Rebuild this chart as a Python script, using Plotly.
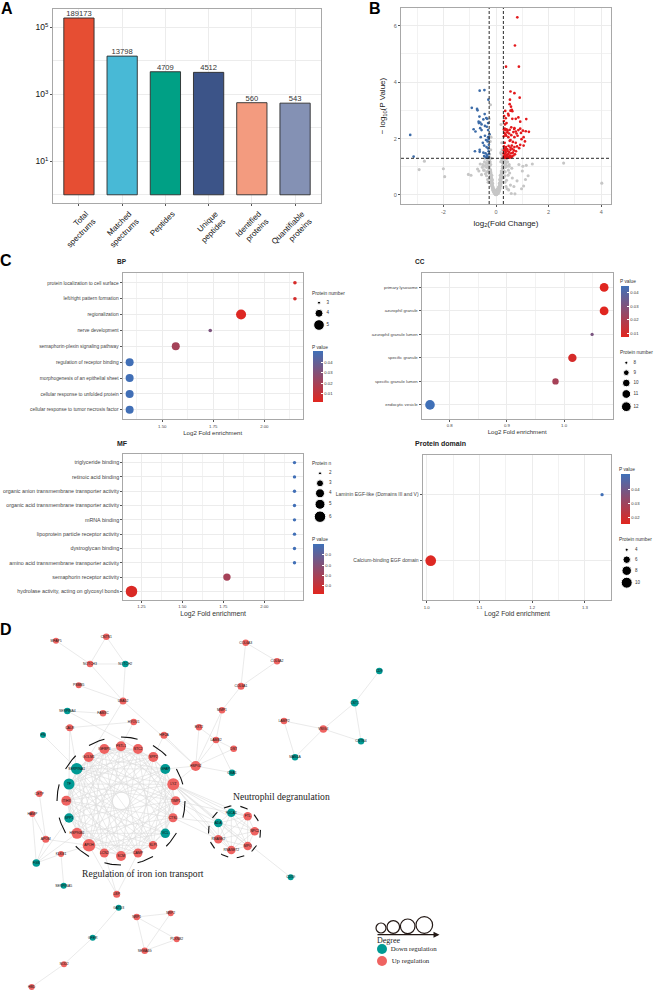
import itertools
import numpy as np
import plotly.graph_objects as go

W, H = 656, 991
SANS = "Liberation Sans, Arial, sans-serif"
SERIF = "Liberation Serif, Times New Roman, serif"
GRID = "#ececec"
BORDER = "#a8a8a8"
TEAL = "#009a94"
CORAL = "#ef6361"
SCALE = [[0, "#e1261f"], [1, "#3f70b8"]]

# ---------- A: counts ----------
count_labels = ["Total<br>spectrums", "Matched<br>spectrums", "Peptides", "Unique<br>peptides",
                "Identified<br>proteins", "Quantifiable<br>proteins"]
count_values = [189173, 13798, 4709, 4512, 560, 543]
count_colors = ["#e64e33", "#48b9d6", "#00a085", "#3c5488", "#f39b7f", "#8491b4"]

# ---------- B: volcano ----------
red_x = [0.81, 0.72, 0.38, 0.87, 0.55, 0.70, 0.90, 0.53, 0.52, 0.57, 0.60, 0.55, 0.62, 0.35, 0.46, 0.31, 0.37, 0.48,
         0.62, 0.75, 0.92, 1.15, 0.85, 0.30, 0.34, 0.40, 0.58, 0.70, 0.30, 0.33, 0.36, 0.40, 0.44, 0.52, 0.69, 0.75,
         0.92, 0.95, 1.02, 1.13, 1.25, 0.32, 0.36, 0.43, 0.50, 0.58, 0.66, 0.78, 0.85, 1.05, 0.30, 0.39, 0.47, 0.55,
         0.70, 0.82, 0.97, 1.10, 0.33, 0.52, 0.64, 0.75, 0.92, 1.05, 0.30, 0.34, 0.38, 0.43, 0.48, 0.55, 0.60, 0.70,
         0.80, 0.88, 0.30, 0.32, 0.36, 0.40, 0.45, 0.50, 0.55, 0.62, 0.68, 0.76, 0.29, 0.33, 0.37, 0.42, 0.47, 0.52,
         0.58, 0.64, 0.72, 0.30, 0.34, 0.38, 0.43, 0.48, 0.54, 0.60, 0.66, 0.29, 0.32, 0.37, 0.41, 0.46, 0.52, 0.58]
red_y = [6.30, 5.30, 4.55, 4.55, 3.67, 3.61, 3.45, 3.38, 3.22, 3.13, 3.02, 2.99, 2.97, 2.98, 2.88, 2.80, 2.72, 2.82,
         2.70, 2.70, 2.60, 2.69, 2.75, 2.62, 2.50, 2.55, 2.40, 2.37, 2.32, 2.35, 2.30, 2.33, 2.28, 2.31, 2.34, 2.25,
         2.35, 2.20, 2.28, 2.26, 2.24, 2.20, 2.15, 2.22, 2.18, 2.12, 2.23, 2.18, 2.30, 2.05, 2.08, 2.10, 2.05, 1.95,
         2.05, 2.10, 1.98, 1.90, 1.85, 1.92, 1.88, 1.85, 1.78, 1.75, 1.72, 1.65, 1.70, 1.62, 1.74, 1.68, 1.75, 1.70,
         1.72, 1.66, 1.58, 1.60, 1.56, 1.62, 1.55, 1.52, 1.60, 1.64, 1.58, 1.55, 1.48, 1.45, 1.50, 1.42, 1.46, 1.40,
         1.48, 1.50, 1.44, 1.38, 1.35, 1.40, 1.36, 1.34, 1.38, 1.36, 1.40, 1.32, 1.33, 1.32, 1.31, 1.33, 1.32, 1.34]
blue_x = [-3.26, -3.13, -0.62, -0.44, -0.29, -0.92, -0.72, -0.70, -0.43, -0.63, -0.37, -0.66, -0.48, -0.34, -0.30,
          -0.60, -0.65, -0.55, -0.42, -0.85, -0.78, -0.60, -0.35, -0.55, -0.30, -0.25, -0.58, -0.30, -0.42, -0.28,
          -0.38, -0.50, -0.32, -0.45, -0.27, -0.62, -0.80, -0.62, -0.36, -0.48, -0.30, -0.40, -0.28, -0.35, -0.45,
          -0.33, -0.27, -0.38, -0.30]
blue_y = [2.13, 1.36, 3.70, 3.72, 3.38, 3.09, 3.05, 3.00, 2.87, 2.78, 2.73, 2.60, 2.68, 2.70, 2.55, 2.57, 2.55, 2.50,
          2.45, 2.33, 2.25, 2.37, 2.42, 2.30, 2.30, 2.15, 2.05, 2.05, 2.10, 1.98, 1.95, 1.85, 1.90, 1.75, 1.78, 1.60,
          1.55, 1.53, 1.70, 1.50, 1.65, 1.48, 1.55, 1.42, 1.38, 1.35, 1.45, 1.33, 1.32]
grey_x = [-2.92, -2.72, -2.00, -1.95, -1.05, -0.95, 4.02, 2.57, 1.38, 1.15, 0.87, 1.02, 1.00, 1.22, 1.12, 1.05,
          0.97, 0.72, 0.58, 0.68, 0.80, -0.70, -0.60, -0.48, -0.52, -0.45, -0.40, -0.36, -0.32, -0.30, -0.55, -0.65,
          -0.28, -0.24, -0.22, -0.20, -0.18, -0.16, -0.14, -0.12, -0.10, -0.08, -0.06, -0.04, -0.02, 0.00, 0.02, 0.04,
          0.06, 0.08, 0.10, 0.12, 0.14, 0.16, 0.18, 0.20, 0.22, 0.24, 0.26, 0.30, 0.34, 0.38, 0.42, 0.48, 0.55, 0.62,
          -0.20, -0.18, -0.15, -0.12, -0.10, -0.08, -0.05, -0.03, 0.00, 0.03, 0.05, 0.08, 0.10, 0.12, 0.15, 0.18, 0.20,
          -0.22, -0.19, -0.16, -0.13, -0.11, -0.09, -0.07, -0.04, -0.01, 0.01, 0.04, 0.07, 0.09, 0.11, 0.13, 0.16, 0.19,
          0.22, -0.24, -0.21, -0.17, -0.14, -0.10, -0.06, -0.02, 0.02, 0.06, 0.10, 0.14, 0.17, 0.21, 0.24, -0.25, -0.20,
          -0.15, 0.15, 0.20, 0.25, -0.22, -0.18, 0.18, 0.22, -0.26, 0.27, -0.24, -0.20, -0.22, -0.19, 0.21, 0.24, 0.18,
          0.26, 0.23, 0.20, -0.26, -0.21, 0.19, -0.25, 0.22, 0.25, 0.30, 0.35, 0.42, -0.34, -0.42, -0.30, 0.50, 0.60,
          -0.16, -0.20, -0.24, -0.28, -0.33, -0.38, -0.44, -0.50, -0.14, -0.18, -0.23, -0.27, -0.31, -0.36, -0.41, -0.47,
          -0.13, -0.17, -0.21, -0.26, -0.30, -0.35, -0.12, -0.16, -0.20, -0.25, -0.10, -0.14, -0.18, -0.07, -0.11,
          0.16, 0.20, 0.24, 0.28, 0.33, 0.38, 0.44, 0.50, 0.14, 0.18, 0.23, 0.27, 0.31, 0.36, 0.41, 0.47, 0.13, 0.17,
          0.21, 0.26, 0.30, 0.35, 0.12, 0.16, 0.20, 0.25, 0.10, 0.14, 0.18, 0.07, 0.11, 0.34, 0.40, 0.46, 0.52, -0.05, 0.05]
grey_y = [0.90, 1.20, 0.93, 0.65, 0.73, 0.70, 0.42, 1.13, 1.10, 1.05, 1.08, 1.02, 0.85, 0.68, 0.55, 0.32, 0.22,
          0.04, 0.05, 0.30, 0.50, 0.92, 1.10, 1.05, 0.98, 0.88, 0.75, 0.68, 0.55, 0.45, 0.72, 0.85, 1.00, 0.92, 0.72,
          0.65, 0.55, 0.48, 0.35, 0.28, 0.20, 0.12, 0.08, 0.05, 0.02, 0.01, 0.03, 0.06, 0.10, 0.15, 0.22, 0.30, 0.42,
          0.50, 0.62, 0.70, 0.82, 0.95, 1.05, 0.62, 0.45, 0.30, 0.22, 0.18, 0.35, 0.60, 0.55, 0.42, 0.32, 0.18, 0.14,
          0.10, 0.05, 0.03, 0.06, 0.02, 0.09, 0.05, 0.14, 0.12, 0.24, 0.38, 0.48, 0.82, 0.78, 0.40, 0.25, 0.16, 0.22,
          0.08, 0.12, 0.08, 0.10, 0.14, 0.14, 0.08, 0.18, 0.20, 0.30, 0.45, 0.60, 1.12, 0.90, 0.60, 0.30, 0.24, 0.16,
          0.16, 0.18, 0.22, 0.28, 0.20, 0.55, 0.72, 1.15, 1.22, 1.08, 0.52, 0.38, 0.78, 1.02, 1.18, 1.30, 1.18, 1.22,
          1.35, 1.25, 1.45, 1.60, 1.90, 2.05, 1.30, 1.22, 1.50, 1.38, 1.60, 1.45, 2.70, 3.20, 2.50, 2.15, 1.85, 1.40,
          1.25, 1.20, 1.30, 1.12, 1.30, 1.35, 1.02, 0.95,
          0.70, 0.85, 1.02, 1.15, 1.22, 1.12, 1.18, 1.08, 0.55, 0.64, 0.78, 0.92, 1.05, 0.98, 1.02, 0.88, 0.42, 0.50,
          0.62, 0.76, 0.85, 0.82, 0.30, 0.38, 0.46, 0.60, 0.18, 0.26, 0.34, 0.12, 0.20,
          0.70, 0.85, 1.02, 1.15, 1.22, 1.12, 1.18, 1.08, 0.55, 0.64, 0.78, 0.92, 1.05, 0.98, 1.02, 0.88, 0.42, 0.50,
          0.62, 0.76, 0.85, 0.82, 0.30, 0.38, 0.46, 0.60, 0.18, 0.26, 0.34, 0.12, 0.20, 0.68, 0.52, 0.70, 0.78, 0.10, 0.10]
fc_thresholds = [-0.26, 0.28]
p_threshold = 1.3

# ---------- C: enrichment ----------
bp_terms = ["protein localization to cell surface", "left/right pattern formation", "regionalization",
            "nerve development", "semaphorin-plexin signaling pathway", "regulation of receptor binding",
            "morphogenesis of an epithelial sheet", "cellular response to unfolded protein",
            "cellular response to tumor necrosis factor"]
bp_enrich = [2.15, 2.15, 1.886, 1.735, 1.566, 1.34, 1.34, 1.34, 1.34]
bp_pval = [0.005, 0.006, 0.003, 0.032, 0.02, 0.05, 0.05, 0.05, 0.05]
bp_size = [3.6, 3.6, 10, 3.6, 8, 8, 8, 8, 8]

cc_terms = ["primary lysosome", "azurophil granule", "azurophil granule lumen", "specific granule",
            "specific granule lumen", "endocytic vesicle"]
cc_enrich = [1.07, 1.07, 1.049, 1.0145, 0.985, 0.7655]
cc_pval = [0.0075, 0.0075, 0.031, 0.01, 0.021, 0.0445]
cc_size = [8.8, 8.8, 3.3, 8.4, 6.4, 9.6]

mf_terms = ["triglyceride binding", "retinoic acid binding", "organic anion transmembrane transporter activity",
            "organic acid transmembrane transporter activity", "mRNA binding", "lipoprotein particle receptor activity",
            "dystroglycan binding", "amino acid transmembrane transporter activity", "semaphorin receptor activity",
            "hydrolase activity, acting on glycosyl bonds"]
mf_enrich = [2.184] * 8 + [1.772, 1.19]
mf_pval = [0.05] * 8 + [0.02, 0.004]
mf_size = [3.4] * 8 + [7.4, 11.5]

pd_terms = ["Laminin EGF-like (Domains III and V)", "Calcium-binding EGF domain"]
pd_enrich = [1.3325, 1.0076]
pd_pval = [0.05, 0.016]
pd_size = [3.3, 10.7]

# Size-key and colour-key values
bp_key = ["3", "4", "5"]
cc_key = ["8", "9", "10", "11", "12"]
mf_key = ["2", "3", "4", "5", "6"]
pd_key = ["4", "6", "8", "10"]

# ---------- D: network (node positions) ----------
ring_big = ["GOLM1", "IGFBP3", "FSTL1", "STC2", "SPP2", "GFAP", "LYZ", "TIMP1", "CTSL", "VCL", "SLPI", "CAMP", "SCM",
            "LCN2", "APOH", "HSP90B1", "SPP1", "ITIH3", "TF", "SERPINA1"]
ring_small = ["FUCA1", "FTL", "NPC2", "MPO", "RNASET2", "RNASE2", "ADA"]
node_name = ring_big + ring_small + [
    "MFAP5", "CNTN1", "NOTCH3", "NOTCH2", "PSMB5", "UBA52", "SERPINA4", "FAM3C", "HYOU1", "CALR", "FN", "HIF2A", "EXT2",
    "LAMB2", "HSPG2", "CETP", "HAMP", "APOM", "FGB", "KLKB1", "SERPINA5", "LBP", "GATD3", "GFER", "SOD2", "HBD", "NRP1",
    "NRP2", "PLXNB2", "SEMA4G", "COL6A3", "COL6A2", "COL6A1", "MMP1", "DST", "CMA1", "LAMP2", "VSIG4", "MAN1A", "CST1",
    "CD9", "CNTN4", "CD59"]
node_x = [88.7, 104.3, 121, 138, 153.3, 165.3, 173.3, 175.7, 173, 165.3, 153, 138, 121, 104.3, 89, 77, 69, 66.3, 69, 76.7,
          231.3, 247.7, 254.7, 247.7, 231.3, 218.3, 218.3,
          56, 106.3, 90, 125.3, 78.7, 123, 67.3, 103, 133.7, 69.7, 43, 164, 199, 216, 195.7, 39.3, 32.3, 45.7, 36.3, 61,
          63.7, 116.7, 118.7, 92.7, 64, 31.7, 136.7, 170.7, 176.7, 144.7, 245.7, 277, 241, 222, 233.7, 232, 284, 323.3,
          295, 354.7, 379.3, 361, 290.7]
node_y = [757, 749, 746.3, 749, 757, 769, 784.3, 800.7, 817.7, 833.3, 845.3, 853, 856, 853, 845.3, 833.3, 818, 800.7, 784, 768.7,
          812.7, 816.3, 831.3, 846, 850, 839.3, 823,
          640.7, 636.7, 664, 664, 685.3, 701, 711, 713.3, 722, 727.7, 735, 735.3, 727.3, 740, 766, 793.7, 814, 839.3, 863,
          854, 885.7, 894.3, 907.7, 937.7, 964.3, 987, 917, 913.3, 939.3, 950.7, 642.7, 661.3, 686.3, 710.3, 748.7, 772.7,
          721, 729, 757.3, 702.7, 671, 741.3, 877.3]
node_size = [10, 10, 10, 10, 10, 10, 12, 9, 9, 9.5, 8.5, 9, 10, 9, 12.5, 11, 9.5, 10, 11, 11.5,
             8.5, 8.5, 8.5, 8.5, 8.5, 8.5, 8.5,
             6, 6.5, 6.5, 6.5, 6, 7, 6.5, 6.5, 6.5, 7, 6, 7, 6.5, 6.5, 10, 6.5, 6, 7, 7.5, 6, 6, 7, 6, 6, 6, 6, 6.5, 6, 6, 6.5,
             6.5, 6.5, 7, 6.5, 6.5, 6.5, 6.5, 7.5, 6.5, 7.5, 6.5, 6.5, 6]
node_down = ["GFAP", "VCL", "SPP1", "TF", "SERPINA1", "FUCA1", "ADA", "NOTCH2", "SERPINA4", "FN", "FGB", "SERPINA5",
             "GATD3", "GFER", "CMA1", "MAN1A", "CST1", "CD9", "CNTN4", "CD59"]
# partners of each ring node, by position in ring_big (the ring is dense but not complete)
ring_links = {0: [2, 3, 5, 7, 8, 10, 11, 12, 13, 15, 17, 18], 1: [3, 4, 6, 8, 10, 12, 14, 15, 17, 19],
              2: [4, 6, 7, 9, 11, 13, 14, 16, 18, 19], 3: [5, 7, 8, 10, 12, 14, 15, 17, 18],
              4: [6, 8, 11, 13, 15, 16, 18, 19], 5: [7, 9, 10, 12, 14, 16, 17, 19],
              6: [8, 9, 11, 12, 14, 15, 17, 18, 19], 7: [9, 11, 13, 14, 16, 18, 19], 8: [10, 12, 13, 15, 17, 19],
              9: [11, 14, 15, 17, 18], 10: [12, 14, 16, 18, 19], 11: [13, 15, 17, 19], 12: [14, 16, 18, 19],
              13: [15, 17, 19], 14: [16, 17, 18, 19], 15: [17, 18], 16: [18, 19], 17: [19]}
edges_other = [("MFAP5", "NOTCH3"), ("CNTN1", "NOTCH3"), ("CNTN1", "NOTCH2"), ("NOTCH3", "NOTCH2"), ("NOTCH2", "UBA52"),
               ("NOTCH3", "UBA52"), ("PSMB5", "UBA52"), ("UBA52", "HSPG2"), ("UBA52", "GOLM1"), ("SERPINA4", "FAM3C"),
               ("SERPINA4", "STC2"), ("HYOU1", "CALR"), ("HYOU1", "FSTL1"), ("CALR", "SERPINA1"), ("CALR", "TF"),
               ("FN", "SERPINA1"), ("HIF2A", "HSPG2"), ("HIF2A", "SPP2"), ("HSPG2", "LYZ"), ("HSPG2", "GFAP"),
               ("EXT2", "HSPG2"), ("LAMB2", "HSPG2"), ("LAMB2", "EXT2"), ("LAMB2", "MMP1"), ("LAMB2", "DST"),
               ("LAMB2", "CMA1"), ("DST", "HSPG2"), ("MMP1", "HSPG2"), ("CMA1", "HSPG2"), ("COL6A1", "MMP1"),
               ("COL6A1", "COL6A2"), ("COL6A1", "COL6A3"), ("COL6A2", "COL6A3"), ("LAMP2", "VSIG4"), ("LAMP2", "MAN1A"),
               ("VSIG4", "MAN1A"), ("VSIG4", "CST1"), ("VSIG4", "CNTN4"), ("CST1", "CNTN4"), ("CST1", "CD9"),
               ("CETP", "APOM"), ("HAMP", "APOM"), ("APOM", "FGB"), ("APOM", "APOH"), ("HAMP", "FGB"), ("KLKB1", "FGB"),
               ("KLKB1", "SERPINA5"), ("KLKB1", "APOH"), ("FGB", "SPP1"), ("FGB", "HSP90B1"), ("APOH", "LBP"),
               ("LCN2", "LBP"), ("CAMP", "LBP"), ("GATD3", "GFER"), ("GFER", "SOD2"), ("SOD2", "HBD"), ("NRP1", "NRP2"),
               ("NRP1", "PLXNB2"), ("NRP1", "SEMA4G"), ("NRP2", "SEMA4G"), ("PLXNB2", "SEMA4G"), ("LYZ", "CD59"),
               ("LYZ", "FUCA1"), ("LYZ", "FTL"), ("LYZ", "NPC2"), ("LYZ", "MPO"), ("LYZ", "RNASET2"), ("LYZ", "RNASE2"),
               ("LYZ", "ADA"), ("TIMP1", "FTL"), ("TIMP1", "RNASE2"), ("TIMP1", "ADA"), ("CTSL", "RNASE2"), ("CTSL", "ADA")]
edges = [(ring_big[a], ring_big[b]) for a, bs in ring_links.items() for b in bs] \
    + list(itertools.combinations(ring_small, 2)) + edges_other

arc_big_center = (121, 801)
arc_big_radius = 64
arc_big_starts = [-120, -90, -60, -30, 0, 30, 60, 90, 120, 150, 180, 210]
arc_big_span = 15
arc_small_center = (234.5, 831.7)
arc_small_radius = 26
arc_small_starts = [-114, -77, -41, -4, 32, 68, 104, 140, 176, 212]
arc_small_span = 17

degree_x = [381, 393.3, 407.7, 424.3]
degree_y = [928, 927, 926.3, 925]
degree_size = [10, 12.6, 14.6, 16.6]
key_x = [382, 382]
key_y = [949, 961]
key_color = [TEAL, CORAL]
key_text = ["Down regulation", "Up regulation"]
key_text_x = [390.7, 391.7]


def rect(l, t, r, b):
    return dict(domain_x=[l / W, r / W], domain_y=[1 - b / H, 1 - t / H])


def base_axis(size, **kw):
    d = dict(showgrid=True, gridcolor=GRID, gridwidth=0.8, zeroline=False, showline=True, mirror=True,
             linecolor=BORDER, linewidth=1.2, ticks="outside", ticklen=2, tickwidth=0.6, tickcolor="#555",
             tickfont=dict(family=SANS, size=size, color="#444"))
    d.update(kw)
    return d


def minor_grid(vals):
    return dict(tickvals=vals, showgrid=True, gridcolor="#f2f2f2", gridwidth=0.6, ticks="")


fig = go.Figure()
annotations = []


def note(text, x, y, size, family=SANS, color="#222", bold=False, align="left"):
    annotations.append(dict(text=f"<b>{text}</b>" if bold else text, x=x / W, y=1 - y / H, xref="paper", yref="paper",
                            xanchor=align, yanchor="middle", xshift=-3, showarrow=False,
                            font=dict(family=family, size=size, color=color)))


# A
ra = rect(53, 9.3, 321, 203)
fig.add_trace(go.Bar(x=count_labels, y=count_values, base=1, width=0.7, marker=dict(color=count_colors,
              line=dict(color="#2b2b2b", width=0.9)), xaxis="x", yaxis="y", showlegend=False))
fig.add_trace(go.Scatter(x=count_labels, y=count_values, mode="text", text=[str(v) for v in count_values],
                         textposition="top center", textfont=dict(family=SANS, size=7.6, color="#333"),
                         cliponaxis=False, xaxis="x", yaxis="y", showlegend=False))
layout_axes = dict(
    xaxis=base_axis(8, domain=ra["domain_x"], anchor="y", type="category", categoryorder="array",
                    categoryarray=count_labels, range=[-0.6, 5.6], tickangle=-45, ticklabelshift=7,
                    tickfont=dict(family=SANS, size=8, color="#111")),
    yaxis=base_axis(8, domain=ra["domain_y"], anchor="x", type="log", range=[-0.245, 5.537],
                    tickvals=[10, 1000, 100000], ticktext=["10<sup>1</sup>", "10<sup>3</sup>", "10<sup>5</sup>"],
                    tickfont=dict(family=SANS, size=8.5, color="#111"),
                    minor=dict(tickvals=[1, 100, 10000], showgrid=True, gridcolor=GRID, ticks="")),
)

# B
rb = rect(401, 8, 611, 204)
fig.add_trace(go.Scatter(x=grey_x, y=grey_y, mode="markers", marker=dict(size=3.1, color="#c6c6c6"), xaxis="x2", yaxis="y2", showlegend=False))
fig.add_trace(go.Scatter(x=blue_x, y=blue_y, mode="markers", marker=dict(size=2.7, color="#3d6ca8"), xaxis="x2", yaxis="y2", showlegend=False))
fig.add_trace(go.Scatter(x=red_x, y=red_y, mode="markers", marker=dict(size=2.7, color="#e3191c"), xaxis="x2", yaxis="y2", showlegend=False))
layout_axes["xaxis2"] = base_axis(5.5, domain=rb["domain_x"], anchor="y2", range=[-3.61, 4.37], tickvals=[-2, 0, 2, 4],
                                  ticktext=["-2", "0", "2", "4"], minor=minor_grid([-3, -1, 1, 3]),
                                  tickfont=dict(family=SANS, size=5.5, color="#666"),
                                  title=dict(text="log<sub>2</sub>(Fold Change)", standoff=6,
                                             font=dict(family=SANS, size=8, color="#222")))
layout_axes["yaxis2"] = base_axis(5.5, domain=rb["domain_y"], anchor="x2", range=[-0.32, 6.63], tickvals=[0, 2, 4, 6],
                                  minor=minor_grid([1, 3, 5]),
                                  tickfont=dict(family=SANS, size=5.5, color="#666"),
                                  title=dict(text="− log<sub>10</sub>(P Value)", standoff=6,
                                             font=dict(family=SANS, size=8, color="#222")))
shapes = []
for v in fc_thresholds:
    shapes.append(dict(type="line", xref="x2", yref="y2", x0=v, x1=v, y0=-0.32, y1=6.63, line=dict(color="#111", width=0.9, dash="3px,2px")))
shapes.append(dict(type="line", xref="x2", yref="y2", x0=-3.61, x1=4.37, y0=p_threshold, y1=p_threshold, line=dict(color="#111", width=0.9, dash="3px,2px")))


# C
def bubble(idx, terms, enrich, pval, size, box, xr, ticks, ticktext, minors, tick_font, title_font, cname, cmin, cmax, bar, cticks, cticktext, standoff):
    n = str(idx)
    r = rect(*box)
    fig.add_trace(go.Scatter(x=enrich, y=terms, mode="markers",
                             marker=dict(size=size, color=pval, coloraxis=cname, opacity=1, line=dict(width=0)),
                             xaxis="x" + n, yaxis="y" + n, showlegend=False))
    layout_axes["xaxis" + n] = base_axis(4.3, domain=r["domain_x"], anchor="y" + n, range=xr, tickvals=ticks,
                                         ticktext=ticktext, minor=minor_grid(minors),
                                         title=dict(text="Log2 Fold enrichment", standoff=standoff,
                                                    font=dict(family=SANS, size=title_font, color="#333")))
    layout_axes["yaxis" + n] = base_axis(tick_font, domain=r["domain_y"], anchor="x" + n, type="category",
                                         categoryorder="array", categoryarray=terms,
                                         range=[len(terms) - 0.4, -0.6])
    layout_coloraxes[cname] = dict(cmin=cmin, cmax=cmax, colorscale=SCALE, colorbar=dict(
        x=bar[0] / W, xanchor="left", xref="paper", y=1 - bar[3] / H, yanchor="bottom", yref="paper",
        thickness=bar[2] - bar[0], thicknessmode="pixels", len=bar[3] - bar[1], lenmode="pixels",
        xpad=0, ypad=0, outlinewidth=0, tickvals=cticks, ticktext=cticktext, ticks="inside", ticklen=2,
        tickcolor="white", tickwidth=0.5, tickfont=dict(family=SANS, size=4.2, color="#333")))


layout_coloraxes = {}
bubble(3, bp_terms, bp_enrich, bp_pval, bp_size, (122.7, 273.3, 302.7, 419.3), [1.306, 2.188], [1.5, 1.75, 2.0],
       ["1.50", "1.75", "2.00"], [1.375, 1.625, 1.875, 2.125], 4.85, 6.1, "coloraxis", 0.0017, 0.0506, (312.7, 351.7, 322.7, 402.3),
       [0.01, 0.02, 0.03, 0.04], ["0.01", "0.02", "0.03", "0.04"], 2)
bubble(4, cc_terms, cc_enrich, cc_pval, cc_size, (421.7, 273.3, 612.7, 419), [0.751, 1.085], [0.8, 0.9, 1.0],
       ["0.8", "0.9", "1.0"], [0.85, 0.95, 1.05], 4.3, 6.1, "coloraxis2", 0.0073, 0.0447, (621, 286.7, 629.3, 337.3),
       [0.01, 0.02, 0.03, 0.04], ["0.01", "0.02", "0.03", "0.04"], 2)
bubble(5, mf_terms, mf_enrich, mf_pval, mf_size, (123.3, 454, 302.7, 600), [1.14, 2.234], [1.25, 1.5, 1.75, 2.0],
       ["1.25", "1.50", "1.75", "2.00"], [1.375, 1.625, 1.875, 2.125], 5.35, 6.8, "coloraxis3", 0.002, 0.0506, (313.3, 544, 324, 594),
       [0.01, 0.02, 0.03, 0.04], ["0.0", "0.0", "0.0", "0.0"], 2)
bubble(6, pd_terms, pd_enrich, pd_pval, pd_size, (422.7, 455, 611.3, 600.3), [0.9924, 1.35], [1.0, 1.1, 1.2, 1.3],
       ["1.0", "1.1", "1.2", "1.3"], [1.05, 1.15, 1.25], 5, 6.8, "coloraxis4", 0.0151, 0.0504, (620.7, 474.3, 630, 524.3),
       [0.02, 0.03, 0.04], ["0.02", "0.03", "0.04"], 2)

# page-wide axes used for size keys and the network, whose positions have no scale
layout_axes["xaxis7"] = dict(domain=[0, 1], range=[0, W], visible=False, anchor="y7", fixedrange=True)
layout_axes["yaxis7"] = dict(domain=[0, 1], range=[H, 0], visible=False, anchor="x7", fixedrange=True)


def size_key(labels, dot_x, dot_y, sizes, lab_x):
    fig.add_trace(go.Scatter(x=[dot_x] * len(labels), y=dot_y, mode="markers", marker=dict(size=sizes, color="black", opacity=1),
                             xaxis="x7", yaxis="y7", showlegend=False, hoverinfo="skip"))
    fig.add_trace(go.Scatter(x=[lab_x] * len(labels), y=dot_y, mode="text", text=labels, textposition="middle right",
                             textfont=dict(family=SANS, size=4.5, color="#333"), xaxis="x7", yaxis="y7",
                             showlegend=False, hoverinfo="skip"))


size_key(bp_key, 319, [302.7, 313.3, 325], [3, 8, 10.7], 326.5)
size_key(cc_key, 626.3, [362.7, 372.7, 383, 394, 406.7], [3, 5.7, 7.7, 8.7, 9.7], 633.5)
size_key(mf_key, 320, [473.3, 483.3, 493.3, 504.3, 516.7], [3, 7, 9, 10, 11.5], 329)
size_key(pd_key, 626.7, [549.7, 559.7, 570.7, 582.7], [3, 7.5, 9.5, 11], 635)

# D
pos = {n: (x, y) for n, x, y in zip(node_name, node_x, node_y)}
ex, ey = [], []
for a, b in edges:
    ex += [pos[a][0], pos[b][0], None]
    ey += [pos[a][1], pos[b][1], None]
fig.add_trace(go.Scatter(x=ex, y=ey, mode="lines", line=dict(color="#dcdcdc", width=0.6), xaxis="x7", yaxis="y7",
                         showlegend=False, hoverinfo="skip"))
for (cx, cy), rad, starts, span in [(arc_big_center, arc_big_radius, arc_big_starts, arc_big_span),
                                    (arc_small_center, arc_small_radius, arc_small_starts, arc_small_span)]:
    ax, ay = [], []
    for s in starts:
        t = np.radians(np.linspace(s, s + span, 12))
        ax += list(cx + rad * np.cos(t)) + [None]
        ay += list(cy + rad * np.sin(t)) + [None]
    fig.add_trace(go.Scatter(x=ax, y=ay, mode="lines", line=dict(color="#111", width=1.1), xaxis="x7", yaxis="y7",
                             showlegend=False, hoverinfo="skip"))
node_col = [TEAL if n in node_down else CORAL for n in node_name]
fig.add_trace(go.Scatter(x=node_x, y=node_y, mode="markers+text", text=node_name, textposition="middle center",
                         marker=dict(size=node_size, color=node_col, opacity=1, line=dict(width=0)),
                         textfont=dict(family=SANS, size=3.4, color="#111"), xaxis="x7", yaxis="y7", showlegend=False))

fig.add_trace(go.Scatter(x=degree_x, y=degree_y, mode="markers",
                         marker=dict(size=degree_size, color="rgba(0,0,0,0)", opacity=1, line=dict(color="#231815", width=1.2)),
                         xaxis="x7", yaxis="y7", showlegend=False, hoverinfo="skip"))
fig.add_trace(go.Scatter(x=key_x, y=key_y, mode="markers", marker=dict(size=10, color=key_color, opacity=1), xaxis="x7", yaxis="y7",
                         showlegend=False, hoverinfo="skip"))
fig.add_trace(go.Scatter(x=key_text_x, y=key_y, mode="text", text=key_text, textposition="middle right",
                         textfont=dict(family=SERIF, size=6.8, color="#222"), xaxis="x7", yaxis="y7", showlegend=False,
                         hoverinfo="skip"))
annotations.append(dict(x=439.5, y=934.7, ax=376, ay=934.7, xref="x7", yref="y7", axref="x7", ayref="y7", text="",
                        showarrow=True, arrowhead=2, arrowsize=1, arrowwidth=1.2, arrowcolor="#231815"))

note("Degree", 378, 940, 8, SERIF)
note("Regulation of iron ion transport", 83, 873.7, 9.6, SERIF)
note("Neutrophil degranulation", 234, 796.3, 9.6, SERIF)
for t, x, y in [("A", 1.5, 9), ("B", 370, 8), ("C", 1, 260), ("D", 1, 629)]:
    note(t, x, y, 16, color="black", bold=True)
for t, x, y, s in [("BP", 118, 261, 6.5), ("CC", 416, 261, 6.5), ("MF", 118, 443, 7), ("Protein domain", 416, 443, 7)]:
    note(t, x, y, s, bold=True)
for t, x, y in [("Protein number", 312.7, 293), ("P value", 312.7, 347), ("P value", 621, 281.7),
                ("Protein number", 621, 353), ("Protein n", 313.3, 463.3), ("P value", 313.3, 539),
                ("P value", 620.3, 469.3), ("Protein number", 620.3, 539.7)]:
    note(t, x, y, 4.8, color="#333")

fig.update_layout(width=W, height=H, margin=dict(l=0, r=0, t=0, b=0), paper_bgcolor="white", plot_bgcolor="rgba(0,0,0,0)",
                  showlegend=False, annotations=annotations, shapes=shapes, bargap=0.3, **layout_axes, **layout_coloraxes)
fig.write_html("out.html", post_script="document.body.style.margin='0';", config=dict(displayModeBar=False))
